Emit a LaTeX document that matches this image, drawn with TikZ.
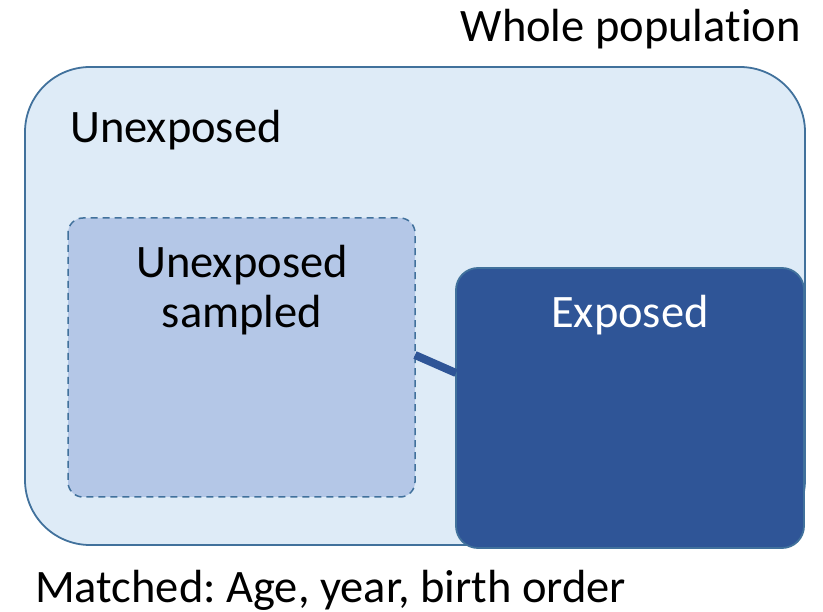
\documentclass[tikz,border=0pt]{standalone}
\usepackage{fontspec}
\setmainfont{Carlito}[Ligatures={NoCommon}]
\frenchspacing
\begin{document}
\begin{tikzpicture}[x=1pt,y=-1pt,
  lbl/.style={font=\fontsize{46.5}{50}\selectfont, inner sep=0pt},
  box/.style={rounded corners=#1, line width=1.8pt},
]
\useasboundingbox (0,0) rectangle (823,612);
\definecolor{outerfill}{HTML}{DEEBF7}
\definecolor{edge}{HTML}{41719C}
\definecolor{sampfill}{HTML}{B4C7E7}
\definecolor{expfill}{HTML}{2F5597}
% outer
\draw[box=65pt, draw=edge, fill=outerfill] (25,67) rectangle (805,545);
% sampled
\draw[box=15pt, draw=edge, fill=sampfill, dashed, dash pattern=on 7pt off 5pt, line width=1.5pt] (68,218) rectangle (415,497);
% exposed
\draw[box=22pt, draw=edge, fill=expfill] (456,268) rectangle (804,548);
\coordinate (a) at (415,355);
\coordinate (b) at (456,373);
\draw[expfill, line width=8pt] (a) -- (b);
\node[lbl, anchor=base east] (whole) at (801,42) {Whole population};
\node[lbl, anchor=base west] (unexp) at (70,143) {Unexposed};
\node[lbl, align=center, anchor=base] (samp) at (242,328) {Unexposed\\sampled};
\node[lbl, text=white, anchor=base] (exp) at (630,328) {Exposed};
\node[lbl, anchor=base west] (match) at (35,602) {Matched: Age, year, birth order};
\end{tikzpicture}
\end{document}
